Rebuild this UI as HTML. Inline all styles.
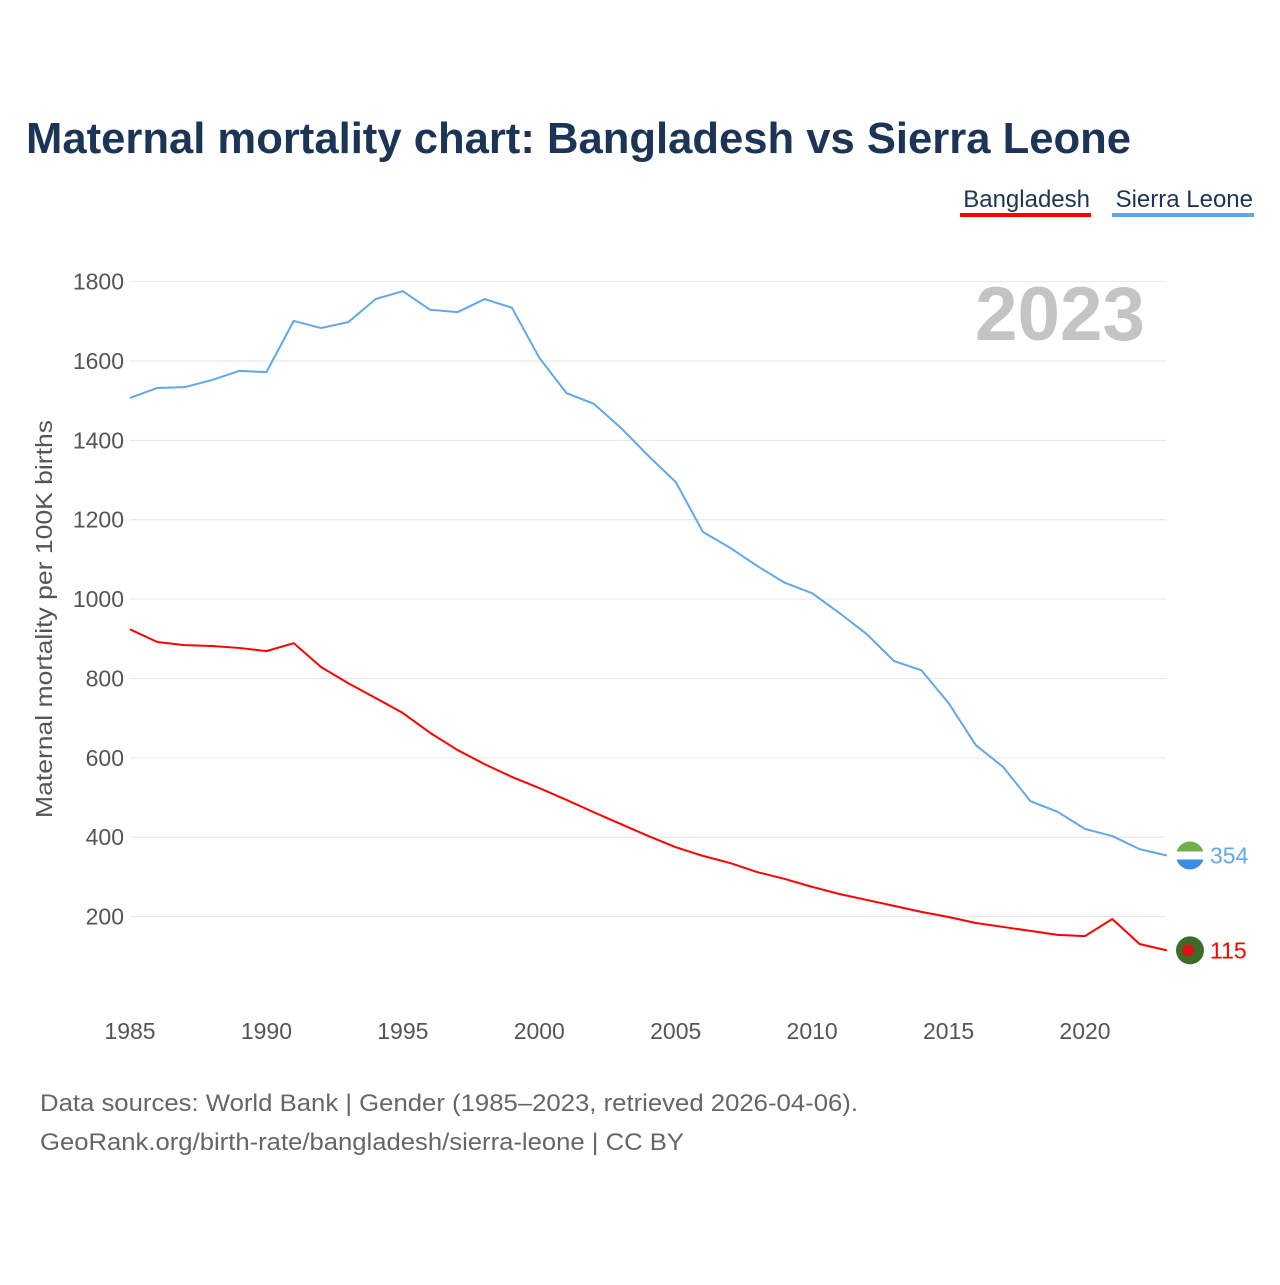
<!DOCTYPE html>
<html><head><meta charset="utf-8"><style>
body{margin:0;background:#fff;font-family:"Liberation Sans",sans-serif;}
</style></head><body>
<svg width="1280" height="1280" viewBox="0 0 1280 1280" xmlns="http://www.w3.org/2000/svg">
<text x="26" y="153" font-size="44" font-weight="bold" fill="#1c3455" textLength="1105" lengthAdjust="spacingAndGlyphs">Maternal mortality chart: Bangladesh vs Sierra Leone</text>
<g><text x="1090" y="207" font-size="24" fill="#1c3455" text-anchor="end">Bangladesh</text><rect x="960" y="213" width="131" height="4" fill="#ff0000"/></g>
<g><text x="1253" y="207" font-size="24" fill="#1c3455" text-anchor="end">Sierra Leone</text><rect x="1112" y="213" width="142" height="4" fill="#5fa8ea"/></g>
<text x="1145" y="340" font-size="76" font-weight="bold" fill="#c4c4c4" text-anchor="end" textLength="170" lengthAdjust="spacingAndGlyphs">2023</text>
<g id="grid"></g><g id="yt"></g><g id="xt"></g><g id="lines"></g>
<text transform="translate(52,619) rotate(-90)" font-size="23" fill="#555" text-anchor="middle" textLength="398" lengthAdjust="spacingAndGlyphs">Maternal mortality per 100K births</text>
<text x="40" y="1111" font-size="24" fill="#666" textLength="818" lengthAdjust="spacingAndGlyphs">Data sources: World Bank | Gender (1985–2023, retrieved 2026-04-06).</text>
<text x="40" y="1150" font-size="24" fill="#666" textLength="644" lengthAdjust="spacingAndGlyphs">GeoRank.org/birth-rate/bangladesh/sierra-leone | CC BY</text>
</svg>
<script>
const years=[];for(let y=1985;y<=2023;y++)years.push(y);
const bangladesh=[924,892,884,882,877,869,889,829,788,751,713,663,620,584,552,524,494,463,433,403,375,353,335,312,295,275,257,242,227,212,199,184,174,164,154,151,194,131,115];
const sierraLeone=[1507,1532,1534,1552,1575,1572,1701,1683,1698,1756,1776,1729,1723,1756,1734,1608,1519,1492,1431,1361,1295,1169,1129,1083,1041,1015,965,912,844,821,738,632,577,491,464,421,403,370,354];
const yTicks=[200,400,600,800,1000,1200,1400,1600,1800];
const xTicks=[1985,1990,1995,2000,2005,2010,2015,2020];
const X=y=>130+(y-1985)*955/35;
const Y=v=>996-v*0.39688;
const NS="http://www.w3.org/2000/svg";
function mk(t,a,p){const e=document.createElementNS(NS,t);for(const k in a)e.setAttribute(k,a[k]);p.appendChild(e);return e;}
const grid=document.getElementById('grid'),yt=document.getElementById('yt'),xt=document.getElementById('xt'),lines=document.getElementById('lines');
yTicks.forEach(v=>{const l=mk('line',{x1:130,x2:1166,y1:Y(v),y2:Y(v),stroke:'#e6e6e6','stroke-width':1},grid);


const t=mk('text',{x:124,y:Y(v)+8,'font-size':23,fill:'#555','text-anchor':'end'},yt);t.textContent=v;

});
xTicks.forEach(v=>{const t=mk('text',{x:X(v),y:1039,'font-size':23,fill:'#555','text-anchor':'middle'},xt);t.textContent=v;

});
function line(data,color,name){const p=mk('polyline',{points:data.map((v,i)=>X(years[i])+','+Y(v)).join(' '),fill:'none',stroke:color,'stroke-width':2,'stroke-linejoin':'round'},lines);

}
line(sierraLeone,'#5fa8ea','sierra-leone-line');
line(bangladesh,'#ff0000','bangladesh-line');
const sv=sierraLeone[sierraLeone.length-1],bv=bangladesh[bangladesh.length-1];
const cx=1190;
const sg=mk('g',{},lines);


mk('clipPath',{id:'c1'},sg);mk('circle',{cx:cx,cy:Y(sv),r:14},document.getElementById('c1'));
mk('rect',{x:cx-14,y:Y(sv)-14,width:28,height:10,fill:'#6fb04a','clip-path':'url(#c1)'},sg);
mk('rect',{x:cx-14,y:Y(sv)-4,width:28,height:8,fill:'#fff','clip-path':'url(#c1)'},sg);
mk('rect',{x:cx-14,y:Y(sv)+4,width:28,height:10,fill:'#3b8de0','clip-path':'url(#c1)'},sg);
const st=mk('text',{x:1210,y:Y(sv)+8,'font-size':23,fill:'#5fa8ea'},lines);st.textContent=sv;


const bg=mk('g',{},lines);


mk('circle',{cx:cx,cy:Y(bv),r:14,fill:'#3d6b2a'},bg);
mk('circle',{cx:cx-2,cy:Y(bv),r:6,fill:'#e0101a'},bg);
const bt=mk('text',{x:1210,y:Y(bv)+8,'font-size':23,fill:'#ff0000'},lines);bt.textContent=bv;


</script>
</body></html>
